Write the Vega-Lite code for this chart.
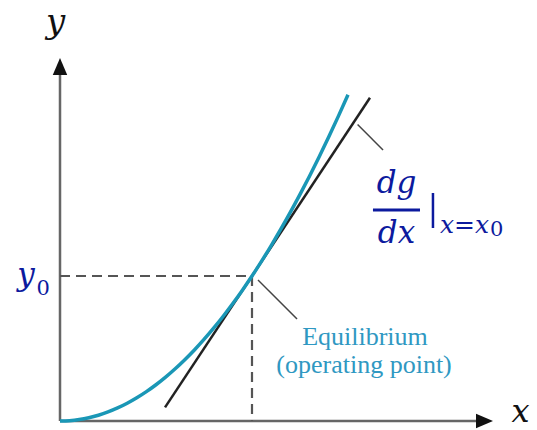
{
  "$schema": "https://vega.github.io/schema/vega-lite/v6.json",
  "width": 435,
  "height": 361,
  "autosize": {"type": "none"},
  "padding": {"left": 60, "top": 60, "right": 42, "bottom": 9},
  "background": "white",
  "config": {"view": {"stroke": null}},
  "datasets": {
    "axes": [
      {"x": 0, "y": 0, "x2": 4.42, "y2": 0},
      {"x": 0, "y": 0, "x2": 0, "y2": 9.78}
    ],
    "guides": [
      {"x": 0, "y": 4, "x2": 2, "y2": 4},
      {"x": 2, "y": 4, "x2": 2, "y2": 0}
    ],
    "tangent": [
      {"x": 1.094, "y": 0.375, "x2": 3.229, "y2": 8.917}
    ],
    "leaders": [
      {"x": 2.0625, "y": 3.89, "x2": 2.469, "y2": 2.814},
      {"x": 3.1, "y": 8.18, "x2": 3.365, "y2": 7.476}
    ],
    "curve": [
      {"x": 0.0, "y": 0.0},
      {"x": 0.1, "y": 0.01},
      {"x": 0.2, "y": 0.04},
      {"x": 0.3, "y": 0.09},
      {"x": 0.4, "y": 0.16},
      {"x": 0.5, "y": 0.25},
      {"x": 0.6, "y": 0.36},
      {"x": 0.7, "y": 0.49},
      {"x": 0.8, "y": 0.64},
      {"x": 0.9, "y": 0.81},
      {"x": 1.0, "y": 1.0},
      {"x": 1.1, "y": 1.21},
      {"x": 1.2, "y": 1.44},
      {"x": 1.3, "y": 1.69},
      {"x": 1.4, "y": 1.96},
      {"x": 1.5, "y": 2.25},
      {"x": 1.6, "y": 2.56},
      {"x": 1.7, "y": 2.89},
      {"x": 1.8, "y": 3.24},
      {"x": 1.9, "y": 3.61},
      {"x": 2.0, "y": 4.0},
      {"x": 2.1, "y": 4.41},
      {"x": 2.2, "y": 4.84},
      {"x": 2.3, "y": 5.29},
      {"x": 2.4, "y": 5.76},
      {"x": 2.5, "y": 6.25},
      {"x": 2.6, "y": 6.76},
      {"x": 2.7, "y": 7.29},
      {"x": 2.8, "y": 7.84},
      {"x": 2.9, "y": 8.41},
      {"x": 3.0, "y": 9.0}
    ],
    "axisNames": [
      {"t": "y", "x": -0.047, "y": 10.7}
    ],
    "xName": [
      {"t": "x", "x": 4.797, "y": -0.03}
    ],
    "mathBig": [
      {"t": "y", "x": -0.354, "y": 3.752},
      {"t": "dg", "x": 3.505, "y": 6.29},
      {"t": "dx", "x": 3.505, "y": 4.91}
    ],
    "mathSub": [
      {"t": "x=x", "x": 3.958, "y": 5.186}
    ],
    "digits": [
      {"t": "0", "x": -0.245, "y": 3.476},
      {"t": "0", "x": 4.479, "y": 5.103}
    ],
    "fractionBar": [
      {"x": 3.26, "y": 5.821, "x2": 3.75, "y2": 5.821}
    ],
    "evalBar": [
      {"x": 3.885, "y": 6.29, "x2": 3.885, "y2": 5.324}
    ],
    "notes": [
      {"t": "Equilibrium", "x": 3.177, "y": 2.097},
      {"t": "(operating point)", "x": 3.167, "y": 1.324}
    ],
    "xArrow": [{"x": 4.422, "y": 0}],
    "yArrow": [{"x": 0, "y": 9.779}]
  },
  "encoding": {
    "x": {"field": "x", "type": "quantitative", "axis": null,
          "scale": {"domain": [0, 4.53125], "nice": false, "zero": false}},
    "y": {"field": "y", "type": "quantitative", "axis": null,
          "scale": {"domain": [0, 9.9586], "nice": false, "zero": false}}
  },
  "layer": [
    {
      "data": {"name": "axes"},
      "mark": {"type": "rule", "color": "#666666", "strokeWidth": 2.5},
      "encoding": {"x2": {"field": "x2"}, "y2": {"field": "y2"}}
    },
    {
      "data": {"name": "xArrow"},
      "mark": {"type": "point", "shape": "M1,0L-1,-0.85L-1,0.85Z", "size": 289,
               "filled": true, "color": "#111111", "opacity": 1}
    },
    {
      "data": {"name": "yArrow"},
      "mark": {"type": "point", "shape": "M0,-1L0.85,1L-0.85,1Z", "size": 289,
               "filled": true, "color": "#111111", "opacity": 1}
    },
    {
      "data": {"name": "guides"},
      "mark": {"type": "rule", "color": "#555555", "strokeWidth": 2.2, "strokeDash": [10, 6]},
      "encoding": {"x2": {"field": "x2"}, "y2": {"field": "y2"}}
    },
    {
      "data": {"name": "tangent"},
      "mark": {"type": "rule", "color": "#222222", "strokeWidth": 2.5},
      "encoding": {"x2": {"field": "x2"}, "y2": {"field": "y2"}}
    },
    {
      "data": {"name": "curve"},
      "mark": {"type": "line", "color": "#1a97b6", "strokeWidth": 3.5, "interpolate": "monotone"}
    },
    {
      "data": {"name": "leaders"},
      "mark": {"type": "rule", "color": "#444444", "strokeWidth": 1.5},
      "encoding": {"x2": {"field": "x2"}, "y2": {"field": "y2"}}
    },
    {
      "data": {"name": "axisNames"},
      "mark": {"type": "text", "font": "DejaVu Serif", "fontStyle": "italic", "fontSize": 34,
               "color": "#111111", "align": "center", "baseline": "alphabetic"},
      "encoding": {"text": {"field": "t"}}
    },
    {
      "data": {"name": "xName"},
      "mark": {"type": "text", "font": "DejaVu Serif", "fontStyle": "italic", "fontSize": 32,
               "color": "#111111", "align": "center", "baseline": "alphabetic"},
      "encoding": {"text": {"field": "t"}}
    },
    {
      "data": {"name": "mathBig"},
      "mark": {"type": "text", "font": "DejaVu Serif", "fontStyle": "italic", "fontSize": 31,
               "color": "#0c1a9e", "align": "center", "baseline": "alphabetic"},
      "encoding": {"text": {"field": "t"}}
    },
    {
      "data": {"name": "mathSub"},
      "mark": {"type": "text", "font": "DejaVu Serif", "fontStyle": "italic", "fontSize": 25,
               "color": "#0c1a9e", "align": "left", "baseline": "alphabetic"},
      "encoding": {"text": {"field": "t"}}
    },
    {
      "data": {"name": "digits"},
      "mark": {"type": "text", "font": "DejaVu Serif", "fontSize": 21,
               "color": "#0c1a9e", "align": "left", "baseline": "alphabetic"},
      "encoding": {"text": {"field": "t"}}
    },
    {
      "data": {"name": "fractionBar"},
      "mark": {"type": "rule", "color": "#0c1a9e", "strokeWidth": 3},
      "encoding": {"x2": {"field": "x2"}, "y2": {"field": "y2"}}
    },
    {
      "data": {"name": "evalBar"},
      "mark": {"type": "rule", "color": "#0c1a9e", "strokeWidth": 2.5},
      "encoding": {"x2": {"field": "x2"}, "y2": {"field": "y2"}}
    },
    {
      "data": {"name": "notes"},
      "mark": {"type": "text", "font": "Liberation Serif", "fontSize": 26,
               "color": "#2f98c2", "align": "center", "baseline": "alphabetic"},
      "encoding": {"text": {"field": "t"}}
    }
  ]
}
